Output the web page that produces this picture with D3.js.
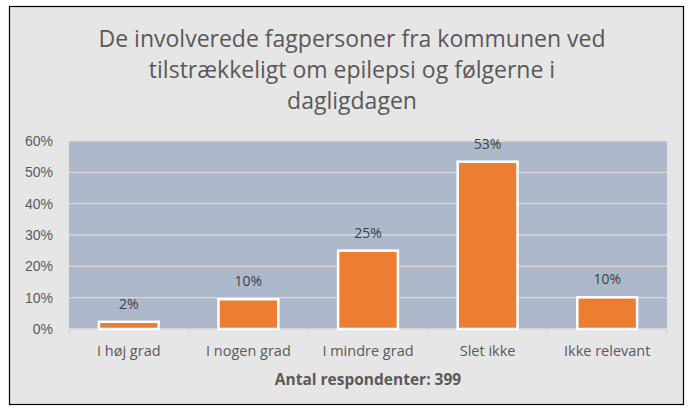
<!DOCTYPE html>
<html>
<head>
<meta charset="utf-8">
<script src="https://cdn.jsdelivr.net/npm/d3@7"></script>
<style>
  body { margin: 0; background: #fff; }
  svg { display: block; font-family: "Open Sans", "Noto Sans", sans-serif; }
</style>
</head>
<body>
<svg id="chart" width="692" height="412"></svg>
<script>
const titleLines = ["De involverede fagpersoner fra kommunen ved", "tilstrækkeligt om epilepsi og følgerne i", "dagligdagen"];
const categories = ["I høj grad", "I nogen grad", "I mindre grad", "Slet ikke", "Ikke relevant"];
const values = [0.023, 0.095, 0.25, 0.534, 0.101];
const yTicks = [0, 0.1, 0.2, 0.3, 0.4, 0.5, 0.6];
const xTitle = "Antal respondenter: 399";

const width = 692, height = 412;
const margin = { top: 141, right: 25, bottom: 83, left: 69 };

const svg = d3.select("#chart");

// chart frame
svg.append("rect")
  .attr("x", 9.5).attr("y", 6.5)
  .attr("width", 674).attr("height", 398)
  .attr("fill", "#e7e6e6")
  .attr("stroke", "#000")
  .attr("stroke-width", 1.2);

const x = d3.scaleBand()
  .domain(categories)
  .range([margin.left, width - margin.right])
  .paddingInner(0.5)
  .paddingOuter(0.25);

const y = d3.scaleLinear()
  .domain([0, 0.6])
  .range([height - margin.bottom, margin.top]);

// plot area
svg.append("rect")
  .attr("x", margin.left).attr("y", margin.top)
  .attr("width", width - margin.right - margin.left)
  .attr("height", y(0) - y(0.6))
  .attr("fill", "#adb9ca");

// gridlines
svg.append("g")
  .selectAll("line")
  .data(yTicks.slice(1))
  .join("line")
  .attr("x1", margin.left).attr("x2", width - margin.right)
  .attr("y1", d => y(d)).attr("y2", d => y(d))
  .attr("stroke", "#d9d9d9")
  .attr("stroke-width", 1.3);

// y axis
const yAxis = svg.append("g")
  .attr("transform", `translate(${margin.left},0)`)
  .call(d3.axisLeft(y).tickValues(yTicks).tickFormat(d3.format(".0%")).tickSize(0).tickPadding(16));
yAxis.select(".domain").remove();
yAxis.selectAll("text").attr("fill", "#595959").style("font-size", "14px");

// x axis with category boundary ticks
const xAxis = svg.append("g")
  .attr("transform", `translate(0,${y(0)})`);
xAxis.append("line")
  .attr("x1", margin.left).attr("x2", width - margin.right)
  .attr("stroke", "#d9d9d9").attr("stroke-width", 1.3);
xAxis.selectAll(".bound")
  .data(d3.range(categories.length + 1))
  .join("line")
  .attr("class", "bound")
  .attr("x1", i => margin.left + i * x.step())
  .attr("x2", i => margin.left + i * x.step())
  .attr("y1", 0).attr("y2", 5)
  .attr("stroke", "#d9d9d9").attr("stroke-width", 1.3);
xAxis.selectAll(".cat")
  .data(categories)
  .join("text")
  .attr("class", "cat")
  .attr("x", d => x(d) + x.bandwidth() / 2)
  .attr("y", 27)
  .attr("text-anchor", "middle")
  .attr("fill", "#595959")
  .style("font-size", "14.5px")
  .text(d => d);

// bars
svg.append("g")
  .selectAll("rect")
  .data(values)
  .join("rect")
  .attr("x", (d, i) => x(categories[i]))
  .attr("y", d => y(d))
  .attr("width", x.bandwidth())
  .attr("height", d => y(0) - y(d))
  .attr("fill", "#ed7d31")
  .attr("stroke", "#fff")
  .attr("stroke-width", 2.5);

// data labels
svg.append("g")
  .selectAll("text")
  .data(values)
  .join("text")
  .attr("x", (d, i) => x(categories[i]) + x.bandwidth() / 2)
  .attr("y", d => y(d) - 13)
  .attr("text-anchor", "middle")
  .attr("fill", "#404040")
  .style("font-size", "14px")
  .text(d => Math.round(d * 100) + "%");

// title
svg.append("g")
  .selectAll("text")
  .data(titleLines)
  .join("text")
  .attr("x", (margin.left + width - margin.right) / 2 - 16)
  .attr("y", (d, i) => 47 + i * 31)
  .attr("text-anchor", "middle")
  .attr("fill", "#595959")
  .style("font-size", "23px")
  .text(d => d);

// axis title
svg.append("text")
  .attr("x", (margin.left + width - margin.right) / 2)
  .attr("y", 385)
  .attr("text-anchor", "middle")
  .attr("fill", "#595959")
  .style("font-size", "15.5px")
  .style("font-weight", "bold")
  .text(xTitle);
</script>
</body>
</html>
